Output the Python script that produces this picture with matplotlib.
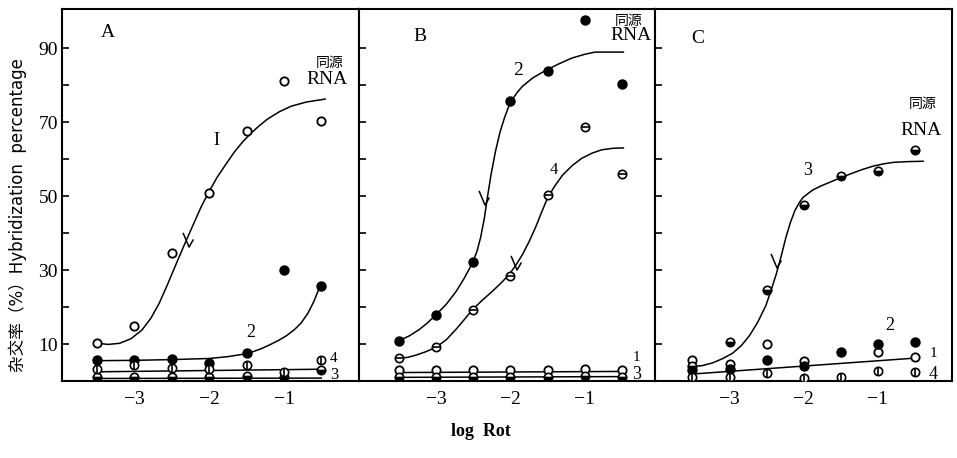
import numpy as np
import matplotlib.pyplot as plt

plt.rcParams['font.family'] = ['Liberation Serif', 'Noto Sans CJK SC']

# x positions of the measurements (log Rot)
log_rot = [-3.5, -3.0, -2.5, -2.0, -1.5, -1.0, -0.5]

## Panel A measured points
a1 = [10.2, 14.9, 34.7, 50.9, 67.7, 81.2, 70.4]
a2 = [5.7, 5.8, 6.0, 4.8, 7.5, 30.0, 25.7]
a3 = [1.2, 1.2, 1.2, 1.2, 1.5, 1.2, 3.0]
a4 = [3.2, 4.3, 3.6, 3.2, 4.3, 2.5, 5.7]
# hand drawn curves
a1_fit_x = [-3.5, -3.35, -3.2, -3.05, -2.9, -2.78, -2.67, -2.56, -2.45, -2.34, -2.22, -2.11,
            -2.0, -1.89, -1.77, -1.66, -1.55, -1.44, -1.33, -1.22, -1.06, -0.9, -0.7, -0.45]
a1_fit_y = [10.2, 9.9, 10.2, 11.4, 13.8, 17.0, 21.0, 26.0, 31.3, 36.5, 42.0, 47.0,
            51.3, 55.2, 58.8, 62.0, 64.7, 67.0, 69.0, 70.8, 72.8, 74.3, 75.4, 76.2]
a2_fit_x = [-3.5, -3.0, -2.5, -2.0, -1.75, -1.53, -1.42, -1.31, -1.2, -1.08, -0.97, -0.86,
            -0.77, -0.68, -0.6, -0.52]
a2_fit_y = [5.5, 5.6, 5.8, 6.1, 6.6, 7.3, 7.9, 8.7, 9.7, 10.9, 12.2, 13.9,
            15.7, 18.3, 21.5, 25.5]
a4_fit_x = [-3.5, -0.5]
a4_fit_y = [2.5, 3.2]
a3_fit_x = [-3.5, -0.5]
a3_fit_y = [0.7, 0.8]

## Panel B
b1 = [3.1, 3.0, 3.1, 3.0, 3.1, 3.3, 3.0]
b2 = [10.9, 17.9, 32.2, 75.6, 83.9, 97.6, 80.3]
b3 = [1.2, 1.0, 1.2, 1.0, 1.1, 1.3, 1.2]
b4 = [6.2, 9.1, 19.3, 28.3, 50.4, 68.6, 55.9]
b2_fit_x = [-3.5, -3.36, -3.22, -3.11, -3.0, -2.86, -2.73, -2.62, -2.51, -2.45, -2.4, -2.35,
            -2.31, -2.26, -2.2, -2.14, -2.08, -2.03, -1.97, -1.9, -1.84, -1.7, -1.53, -1.35,
            -1.17, -1.0, -0.86, -0.48]
b2_fit_y = [10.9, 12.2, 14.0, 15.8, 17.9, 20.8, 24.2, 27.8, 31.9, 35.0, 38.8, 44.0,
            49.5, 55.8, 62.1, 67.2, 71.1, 73.8, 76.2, 78.2, 79.6, 81.9, 83.9, 85.7,
            87.3, 88.3, 88.9, 88.9]
b4_fit_x = [-3.5, -3.38, -3.27, -3.14, -3.0, -2.86, -2.73, -2.62, -2.51, -2.38, -2.24, -2.13,
            -2.02, -1.93, -1.84, -1.75, -1.66, -1.58, -1.5, -1.4, -1.3, -1.17, -1.04, -0.9,
            -0.77, -0.62, -0.48]
b4_fit_y = [6.2, 6.4, 7.0, 7.9, 9.1, 11.2, 14.0, 16.6, 19.3, 21.8, 24.3, 26.4,
            28.7, 31.2, 34.1, 37.6, 41.6, 45.6, 49.5, 52.8, 55.6, 58.2, 60.2, 61.6,
            62.5, 62.9, 63.0]
b1_fit_x = [-3.5, -0.5]
b1_fit_y = [2.3, 2.6]
b3_fit_x = [-3.5, -0.5]
b3_fit_y = [1.0, 1.2]

## Panel C
c1 = [5.8, 4.6, 10.0, 5.5, np.nan, 7.8, 6.6]
c2 = [3.0, 3.2, 5.8, 4.0, 7.9, 10.0, 10.6]
c3 = [4.0, 10.5, 24.6, 47.7, 55.5, 56.7, 62.4]
c4 = [1.0, 1.0, 2.1, 0.7, 1.0, 2.6, 2.4]
c3_fit_x = [-3.5, -3.36, -3.23, -3.1, -2.96, -2.84, -2.73, -2.62, -2.51, -2.44, -2.37, -2.3,
            -2.24, -2.18, -2.12, -2.06, -2.01, -1.94, -1.88, -1.77, -1.65, -1.52, -1.38, -1.22,
            -1.06, -0.92, -0.79, -0.6, -0.39]
c3_fit_y = [3.9, 4.2, 4.9, 6.0, 7.5, 9.6, 12.3, 15.9, 20.4, 24.5, 28.9, 34.0,
            38.8, 42.8, 46.0, 48.2, 49.6, 50.7, 51.6, 52.7, 53.7, 54.8, 55.9, 57.1,
            58.1, 58.7, 59.1, 59.3, 59.4]
c1_fit_x = [-3.5, -0.5]
c1_fit_y = [1.9, 6.2]

# Rot 1/2 marks
half_x = [[-2.28], [-2.35, -1.92], [-2.37]]
half_y = [[38.1], [49.5, 32.0], [32.5]]

ytick_vals = [10, 20, 30, 40, 50, 60, 70, 80, 90]
ytick_text = ['10', '', '30', '', '50', '', '70', '', '90']
xtick_vals = [-3, -2, -1]
xtick_text = ['\u22123', '\u22122', '\u22121']

xlims = [(-3.97, 0.0), (-4.04, -0.05), (-4.0, 0.0)]

check = [(-0.5, 0.7), (0.05, -0.6), (0.45, 0.1)]


def open_pts(ax, y):
    ax.plot(log_rot, y, 'o', ms=6, mfc='white', mec='black', mew=1.3, zorder=4)

def filled_pts(ax, y):
    ax.plot(log_rot, y, 'o', ms=6.5, color='black', zorder=4)

def half_pts(ax, y):
    ax.plot(log_rot, y, 'o', ms=6, fillstyle='bottom', mfc='black', mfcalt='white',
            mec='black', mew=1.2, zorder=4)

def bar_pts(ax, y, bar):
    ax.plot(log_rot, y, 'o', ms=6, mfc='white', mec='black', mew=1.2, zorder=4)
    ax.plot(log_rot, y, bar, ms=6, mec='black', mew=1.2, zorder=5)

def fit(ax, x, y):
    ax.plot(x, y, '-', color='black', lw=1.1, zorder=3, solid_joinstyle='round')


fig = plt.figure(figsize=(9.57, 4.58), dpi=100)
axes = []
for i in range(3):
    ax = fig.add_axes([0.0648 + i * 0.31, 0.168, 0.31, 0.812])
    ax.set_xlim(*xlims[i])
    ax.set_ylim(0, 100.5)
    ax.set_yticks(ytick_vals)
    ax.set_xticks(xtick_vals)
    ax.set_xticklabels(xtick_text)
    ax.tick_params(axis='y', direction='in', length=5, width=1.2)
    ax.tick_params(axis='x', length=0, pad=7, labelsize=14)
    if i == 0:
        ax.set_yticklabels(ytick_text, fontsize=14)
        ax.tick_params(axis='y', pad=3)
    else:
        ax.tick_params(axis='y', labelleft=False)
    for s in ax.spines.values():
        s.set_linewidth(1.5)
    ax.plot(half_x[i], half_y[i], ls='none', marker=check, ms=11, mfc='none',
            mec='black', mew=1.1, zorder=5)
    axes.append(ax)

axA, axB, axC = axes

# A
fit(axA, a1_fit_x, a1_fit_y)
fit(axA, a2_fit_x, a2_fit_y)
fit(axA, a4_fit_x, a4_fit_y)
fit(axA, a3_fit_x, a3_fit_y)
open_pts(axA, a1)
filled_pts(axA, a2)
half_pts(axA, a3)
bar_pts(axA, a4, '|')
axA.text(-3.35, 94.3, 'A', fontsize=14, ha='center', va='center')
axA.text(-1.9, 65.1, 'I', fontsize=13, ha='center', va='center')
axA.text(-1.44, 13.2, '2', fontsize=13, ha='center', va='center')
axA.text(-0.33, 6.2, '4', fontsize=11, ha='center', va='center')
axA.text(-0.33, 1.6, '3', fontsize=12, ha='center', va='center')
axA.text(-0.39, 85.8, '同源', fontsize=10, ha='center', va='center')
axA.text(-0.43, 81.6, 'RNA', fontsize=14, ha='center', va='center')

# B
fit(axB, b2_fit_x, b2_fit_y)
fit(axB, b4_fit_x, b4_fit_y)
fit(axB, b1_fit_x, b1_fit_y)
fit(axB, b3_fit_x, b3_fit_y)
open_pts(axB, b1)
half_pts(axB, b3)
filled_pts(axB, b2)
bar_pts(axB, b4, '_')
axB.text(-3.22, 93.2, 'B', fontsize=14, ha='center', va='center')
axB.text(-1.89, 84.0, '2', fontsize=14, ha='center', va='center')
axB.text(-1.41, 57.0, '4', fontsize=12, ha='center', va='center')
axB.text(-0.3, 6.3, '1', fontsize=11, ha='center', va='center')
axB.text(-0.3, 1.8, '3', fontsize=13, ha='center', va='center')
axB.text(-0.41, 97.3, '同源', fontsize=10, ha='center', va='center')
axB.text(-0.38, 93.4, 'RNA', fontsize=14, ha='center', va='center')

# C
fit(axC, c3_fit_x, c3_fit_y)
fit(axC, c1_fit_x, c1_fit_y)
open_pts(axC, c1)
filled_pts(axC, c2)
half_pts(axC, c3)
bar_pts(axC, c4, '|')
axC.text(-3.43, 92.7, 'C', fontsize=14, ha='center', va='center')
axC.text(-1.95, 56.9, '3', fontsize=13, ha='center', va='center')
axC.text(-0.84, 15.0, '2', fontsize=13, ha='center', va='center')
axC.text(-0.25, 7.5, '1', fontsize=11, ha='center', va='center')
axC.text(-0.25, 1.8, '4', fontsize=13, ha='center', va='center')
axC.text(-0.39, 74.8, '同源', fontsize=10, ha='center', va='center')
axC.text(-0.42, 67.8, 'RNA', fontsize=14, ha='center', va='center')

fig.text(0.019, 0.53, '杂交率（%）Hybridization  percentage', rotation=90,
         fontsize=12, ha='center', va='center', family=['DejaVu Sans', 'Noto Sans CJK SC'])
fig.text(0.502, 0.057, 'log  Rot', fontsize=13, fontweight='bold', ha='center', va='center')

fig.savefig('out.png', dpi=100)
